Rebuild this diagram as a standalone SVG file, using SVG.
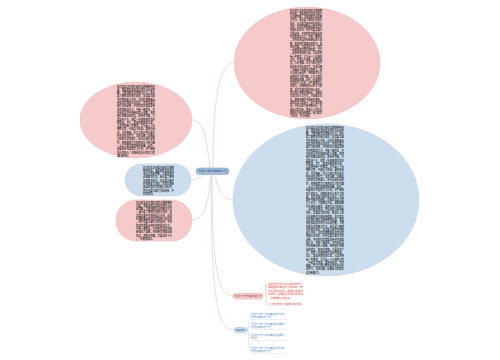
<svg xmlns="http://www.w3.org/2000/svg" width="500" height="360" viewBox="0 0 500 360">
<style>
.t{font-family:"Noto Sans CJK SC","Noto Sans",sans-serif;font-size:3px;font-weight:500;fill:#111111}
.s{font-family:"Noto Sans CJK SC","Noto Sans",sans-serif;font-size:2.6px}
.c{fill:none;stroke:#e6d2d2;stroke-width:0.8}
.cb{fill:none;stroke:#cddcea;stroke-width:0.7}
.pk{fill:#f6caca;stroke:#f1bcbc;stroke-width:0.6}
.bl{fill:#ccdeee;stroke:#bfd4e8;stroke-width:0.6}
</style>
<rect width="500" height="360" fill="#ffffff"/>
<g id="connectors">
<path class="c" d="M213,168 C213,95 220,63 234,63"/>
<path class="c" d="M210,168 C206,132 202,120 192,120"/>
<path class="c" d="M205,174 C200,178 196,180 191,180"/>
<path class="c" d="M211,175 C208,210 202,220 192,220"/>
<path class="c" d="M215,175 C219,195 225,200 233,200"/>
<path class="c" d="M212,175 C212,280 220,296 234,296"/>
<path class="c" d="M211,175 C211,315 220,330 234,330"/>
<path class="c" d="M263,296 C266,296 265,290 266,284 L266,305 M266,296 L268,296" />
<path class="cb" d="M247,330 C249,330 248,316 251,316 M247,330 C249,330 248,326 251,326 M247,330 C249,330 248,337 251,337 M247,330 C249,330 248,350 251,350"/>
</g>
<g id="center">
<rect x="196" y="168" width="33" height="6.5" rx="3.2" fill="#a3bfdb" stroke="#7396ba" stroke-width="0.5"/>
<text class="s" x="212.5" y="172.2" text-anchor="middle" fill="#1f3550" textLength="28" lengthAdjust="spacingAndGlyphs">外语学习的方法和技巧介绍</text>
</g>
<g id="node-top">
<ellipse class="pk" cx="307" cy="63" rx="73" ry="56"/>
<g class="t">
<text x="290" y="11.5" textLength="32" lengthAdjust="spacingAndGlyphs">在日常生活中我们经常会遇到各</text>
<text x="290" y="14.8" textLength="32" lengthAdjust="spacingAndGlyphs">种问题，需要根据实际情况进行</text>
<text x="290" y="18.1" textLength="32" lengthAdjust="spacingAndGlyphs">分析和判断，才能找到合适的解</text>
<text x="290" y="21.4" textLength="32" lengthAdjust="spacingAndGlyphs">决方法。首先要了解相关的基本</text>
<text x="290" y="24.7" textLength="32" lengthAdjust="spacingAndGlyphs">知识，其次要注意平时的积累与</text>
<text x="290" y="28.0" textLength="32" lengthAdjust="spacingAndGlyphs">总结，这样在遇到类似的情况时</text>
<text x="290" y="31.3" textLength="32" lengthAdjust="spacingAndGlyphs">就能从容应对。同时也要注意方</text>
<text x="290" y="34.6" textLength="32" lengthAdjust="spacingAndGlyphs">法的选择，不同的情况需要采用</text>
<text x="290" y="37.9" textLength="32" lengthAdjust="spacingAndGlyphs">不同的处理方式，不能一概而论</text>
<text x="290" y="41.2" textLength="32" lengthAdjust="spacingAndGlyphs">。另外还应当多向有经验的人请</text>
<text x="290" y="44.5" textLength="32" lengthAdjust="spacingAndGlyphs">教，听取他们的意见和建议，避</text>
<text x="290" y="47.8" textLength="32" lengthAdjust="spacingAndGlyphs">免走弯路。只要坚持下去，相信</text>
<text x="290" y="51.1" textLength="32" lengthAdjust="spacingAndGlyphs">一定能够取得良好的效果。总之</text>
<text x="290" y="54.4" textLength="32" lengthAdjust="spacingAndGlyphs">，要保持积极的心态，认真对待</text>
<text x="290" y="57.7" textLength="32" lengthAdjust="spacingAndGlyphs">每一件事情。学习是一个长期的</text>
<text x="290" y="61.0" textLength="32" lengthAdjust="spacingAndGlyphs">过程，不能急于求成，要循序渐</text>
<text x="290" y="64.3" textLength="32" lengthAdjust="spacingAndGlyphs">进，打好基础。在学习的过程中</text>
<text x="290" y="67.6" textLength="32" lengthAdjust="spacingAndGlyphs">要多听多说多读多写，培养语感</text>
<text x="290" y="70.9" textLength="32" lengthAdjust="spacingAndGlyphs">，提高自己的综合运用能力。还</text>
<text x="290" y="74.2" textLength="32" lengthAdjust="spacingAndGlyphs">可以通过看电影、听歌曲等方式</text>
<text x="290" y="77.5" textLength="32" lengthAdjust="spacingAndGlyphs">来增加学习的兴趣，让学习变得</text>
<text x="290" y="80.8" textLength="32" lengthAdjust="spacingAndGlyphs">更加轻松有趣。此外，还要制定</text>
<text x="290" y="84.1" textLength="32" lengthAdjust="spacingAndGlyphs">合理的学习计划，并严格按照计</text>
<text x="290" y="87.4" textLength="32" lengthAdjust="spacingAndGlyphs">划执行，定期检查自己的学习效</text>
<text x="290" y="90.7" textLength="32" lengthAdjust="spacingAndGlyphs">果，及时发现问题并加以改正。</text>
<text x="290" y="94.0" textLength="32" lengthAdjust="spacingAndGlyphs">在实践中不断总结经验，找到适</text>
<text x="290" y="97.3" textLength="32" lengthAdjust="spacingAndGlyphs">合自己的学习方法，才能事半功</text>
<text x="290" y="100.6" textLength="32" lengthAdjust="spacingAndGlyphs">倍。遇到困难时不要轻易放弃，</text>
<text x="290" y="103.9" textLength="32" lengthAdjust="spacingAndGlyphs">要相信自己的能力，勇于面对挑</text>
<text x="290" y="107.2" textLength="32" lengthAdjust="spacingAndGlyphs">战。只有这样才能不断进步，实</text>
<text x="290" y="110.5" textLength="32" lengthAdjust="spacingAndGlyphs">现自己的目标。希望以上的内容</text>
<text x="290" y="113.8" textLength="32" lengthAdjust="spacingAndGlyphs">能够对大家有所帮助，祝大家学</text>
<text x="290" y="117.1" textLength="22" lengthAdjust="spacingAndGlyphs">习进步，生活愉快。</text>
</g>
</g>
<g id="node-big">
<ellipse class="bl" cx="326" cy="200" rx="93" ry="76"/>
<g class="t">
<text x="306" y="128.5" textLength="38" lengthAdjust="spacingAndGlyphs">在日常生活中我们经常会遇到各种问</text>
<text x="306" y="131.8" textLength="38" lengthAdjust="spacingAndGlyphs">题，需要根据实际情况进行分析和判</text>
<text x="306" y="135.1" textLength="38" lengthAdjust="spacingAndGlyphs">断，才能找到合适的解决方法。首先</text>
<text x="306" y="138.4" textLength="38" lengthAdjust="spacingAndGlyphs">要了解相关的基本知识，其次要注意</text>
<text x="306" y="141.7" textLength="38" lengthAdjust="spacingAndGlyphs">平时的积累与总结，这样在遇到类似</text>
<text x="306" y="145.0" textLength="38" lengthAdjust="spacingAndGlyphs">的情况时就能从容应对。同时也要注</text>
<text x="306" y="148.3" textLength="38" lengthAdjust="spacingAndGlyphs">意方法的选择，不同的情况需要采用</text>
<text x="306" y="151.6" textLength="38" lengthAdjust="spacingAndGlyphs">不同的处理方式，不能一概而论。另</text>
<text x="306" y="154.9" textLength="38" lengthAdjust="spacingAndGlyphs">外还应当多向有经验的人请教，听取</text>
<text x="306" y="158.2" textLength="38" lengthAdjust="spacingAndGlyphs">他们的意见和建议，避免走弯路。只</text>
<text x="306" y="161.5" textLength="38" lengthAdjust="spacingAndGlyphs">要坚持下去，相信一定能够取得良好</text>
<text x="306" y="164.8" textLength="38" lengthAdjust="spacingAndGlyphs">的效果。总之，要保持积极的心态，</text>
<text x="306" y="168.1" textLength="38" lengthAdjust="spacingAndGlyphs">认真对待每一件事情。学习是一个长</text>
<text x="306" y="171.4" textLength="38" lengthAdjust="spacingAndGlyphs">期的过程，不能急于求成，要循序渐</text>
<text x="306" y="174.7" textLength="38" lengthAdjust="spacingAndGlyphs">进，打好基础。在学习的过程中要多</text>
<text x="306" y="178.0" textLength="38" lengthAdjust="spacingAndGlyphs">听多说多读多写，培养语感，提高自</text>
<text x="306" y="181.3" textLength="38" lengthAdjust="spacingAndGlyphs">己的综合运用能力。还可以通过看电</text>
<text x="306" y="184.6" textLength="38" lengthAdjust="spacingAndGlyphs">影、听歌曲等方式来增加学习的兴趣</text>
<text x="306" y="187.9" textLength="38" lengthAdjust="spacingAndGlyphs">，让学习变得更加轻松有趣。此外，</text>
<text x="306" y="191.2" textLength="38" lengthAdjust="spacingAndGlyphs">还要制定合理的学习计划，并严格按</text>
<text x="306" y="194.5" textLength="38" lengthAdjust="spacingAndGlyphs">照计划执行，定期检查自己的学习效</text>
<text x="306" y="197.8" textLength="38" lengthAdjust="spacingAndGlyphs">果，及时发现问题并加以改正。在实</text>
<text x="306" y="201.1" textLength="38" lengthAdjust="spacingAndGlyphs">践中不断总结经验，找到适合自己的</text>
<text x="306" y="204.4" textLength="38" lengthAdjust="spacingAndGlyphs">学习方法，才能事半功倍。遇到困难</text>
<text x="306" y="207.7" textLength="38" lengthAdjust="spacingAndGlyphs">时不要轻易放弃，要相信自己的能力</text>
<text x="306" y="211.0" textLength="38" lengthAdjust="spacingAndGlyphs">，勇于面对挑战。只有这样才能不断</text>
<text x="306" y="214.3" textLength="38" lengthAdjust="spacingAndGlyphs">进步，实现自己的目标。希望以上的</text>
<text x="306" y="217.6" textLength="38" lengthAdjust="spacingAndGlyphs">内容能够对大家有所帮助。在日常生</text>
<text x="306" y="220.9" textLength="38" lengthAdjust="spacingAndGlyphs">活中我们经常会遇到各种问题，需要</text>
<text x="306" y="224.2" textLength="38" lengthAdjust="spacingAndGlyphs">根据实际情况进行分析和判断，才能</text>
<text x="306" y="227.5" textLength="38" lengthAdjust="spacingAndGlyphs">找到合适的解决方法。首先要了解相</text>
<text x="306" y="230.8" textLength="38" lengthAdjust="spacingAndGlyphs">关的基本知识，其次要注意平时的积</text>
<text x="306" y="234.1" textLength="38" lengthAdjust="spacingAndGlyphs">累与总结，这样在遇到类似的情况时</text>
<text x="306" y="237.4" textLength="38" lengthAdjust="spacingAndGlyphs">就能从容应对。同时也要注意方法的</text>
<text x="306" y="240.7" textLength="38" lengthAdjust="spacingAndGlyphs">选择，不同的情况需要采用不同的处</text>
<text x="306" y="244.0" textLength="38" lengthAdjust="spacingAndGlyphs">理方式，不能一概而论。另外还应当</text>
<text x="306" y="247.3" textLength="38" lengthAdjust="spacingAndGlyphs">多向有经验的人请教，听取他们的意</text>
<text x="306" y="250.6" textLength="38" lengthAdjust="spacingAndGlyphs">见和建议，避免走弯路。只要坚持下</text>
<text x="306" y="253.9" textLength="38" lengthAdjust="spacingAndGlyphs">去，相信一定能够取得良好的效果。</text>
<text x="306" y="257.2" textLength="38" lengthAdjust="spacingAndGlyphs">总之，要保持积极的心态，认真对待</text>
<text x="306" y="260.5" textLength="38" lengthAdjust="spacingAndGlyphs">每一件事情。学习是一个长期的过程</text>
<text x="306" y="263.8" textLength="38" lengthAdjust="spacingAndGlyphs">，不能急于求成，要循序渐进，打好</text>
<text x="306" y="267.1" textLength="38" lengthAdjust="spacingAndGlyphs">基础。在学习的过程中要多听多说多</text>
<text x="306" y="270.4" textLength="38" lengthAdjust="spacingAndGlyphs">读多写，培养语感，提高自己的综合</text>
<text x="306" y="273.7" textLength="16" lengthAdjust="spacingAndGlyphs">运用能力。</text>
</g>
</g>
<g id="node-left-top">
<ellipse class="pk" cx="136" cy="120" rx="56" ry="38"/>
<g class="t">
<text x="117" y="87.5" textLength="38" lengthAdjust="spacingAndGlyphs">在日常生活中我们经常会遇到各种问</text>
<text x="117" y="90.8" textLength="38" lengthAdjust="spacingAndGlyphs">题，需要根据实际情况进行分析和判</text>
<text x="117" y="94.1" textLength="38" lengthAdjust="spacingAndGlyphs">断，才能找到合适的解决方法。首先</text>
<text x="117" y="97.4" textLength="38" lengthAdjust="spacingAndGlyphs">要了解相关的基本知识，其次要注意</text>
<text x="117" y="100.7" textLength="38" lengthAdjust="spacingAndGlyphs">平时的积累与总结，这样在遇到类似</text>
<text x="117" y="104.0" textLength="38" lengthAdjust="spacingAndGlyphs">的情况时就能从容应对。同时也要注</text>
<text x="117" y="107.3" textLength="38" lengthAdjust="spacingAndGlyphs">意方法的选择，不同的情况需要采用</text>
<text x="117" y="110.6" textLength="38" lengthAdjust="spacingAndGlyphs">不同的处理方式，不能一概而论。另</text>
<text x="117" y="113.9" textLength="38" lengthAdjust="spacingAndGlyphs">外还应当多向有经验的人请教，听取</text>
<text x="117" y="117.2" textLength="38" lengthAdjust="spacingAndGlyphs">他们的意见和建议，避免走弯路。只</text>
<text x="117" y="120.5" textLength="38" lengthAdjust="spacingAndGlyphs">要坚持下去，相信一定能够取得良好</text>
<text x="117" y="123.8" textLength="38" lengthAdjust="spacingAndGlyphs">的效果。总之，要保持积极的心态，</text>
<text x="117" y="127.1" textLength="38" lengthAdjust="spacingAndGlyphs">认真对待每一件事情。学习是一个长</text>
<text x="117" y="130.4" textLength="38" lengthAdjust="spacingAndGlyphs">期的过程，不能急于求成，要循序渐</text>
<text x="117" y="133.7" textLength="38" lengthAdjust="spacingAndGlyphs">进，打好基础。在学习的过程中要多</text>
<text x="117" y="137.0" textLength="38" lengthAdjust="spacingAndGlyphs">听多说多读多写，培养语感，提高自</text>
<text x="117" y="140.3" textLength="38" lengthAdjust="spacingAndGlyphs">己的综合运用能力。还可以通过看电</text>
<text x="117" y="143.6" textLength="38" lengthAdjust="spacingAndGlyphs">影、听歌曲等方式来增加学习的兴趣</text>
<text x="117" y="146.9" textLength="38" lengthAdjust="spacingAndGlyphs">，让学习变得更加轻松有趣。此外，</text>
<text x="117" y="150.2" textLength="38" lengthAdjust="spacingAndGlyphs">还要制定合理的学习计划，并严格按</text>
<text x="117" y="153.5" textLength="38" lengthAdjust="spacingAndGlyphs">照计划执行，定期检查自己的学习效</text>
<text x="117" y="156.8" textLength="14" lengthAdjust="spacingAndGlyphs">果如何。</text>
</g>
</g>
<g id="node-left-mid">
<rect class="bl" x="125" y="164" width="66" height="32" rx="16"/>
<g class="t">
<text x="143" y="168.5" textLength="31" lengthAdjust="spacingAndGlyphs">在日常生活中我们经常会遇到</text>
<text x="143" y="171.8" textLength="31" lengthAdjust="spacingAndGlyphs">各种问题，需要根据实际情况</text>
<text x="143" y="175.1" textLength="31" lengthAdjust="spacingAndGlyphs">进行分析和判断，才能找到合</text>
<text x="143" y="178.4" textLength="31" lengthAdjust="spacingAndGlyphs">适的解决方法。首先要了解相</text>
<text x="143" y="181.7" textLength="31" lengthAdjust="spacingAndGlyphs">关的基本知识，其次要注意平</text>
<text x="143" y="185.0" textLength="31" lengthAdjust="spacingAndGlyphs">时的积累与总结，这样在遇到</text>
<text x="143" y="188.3" textLength="31" lengthAdjust="spacingAndGlyphs">类似的情况时就能从容应对。</text>
<text x="143" y="191.6" textLength="31" lengthAdjust="spacingAndGlyphs">同时也要注意方法的选择，不</text>
<text x="143" y="194.9" textLength="12" lengthAdjust="spacingAndGlyphs">同的情况。</text>
</g>
</g>
<g id="node-left-bottom">
<rect class="pk" x="116" y="200" width="76" height="41" rx="20"/>
<g class="t">
<text x="136" y="203.5" textLength="36" lengthAdjust="spacingAndGlyphs">在日常生活中我们经常会遇到各种</text>
<text x="136" y="206.8" textLength="36" lengthAdjust="spacingAndGlyphs">问题，需要根据实际情况进行分析</text>
<text x="136" y="210.1" textLength="36" lengthAdjust="spacingAndGlyphs">和判断，才能找到合适的解决方法</text>
<text x="136" y="213.4" textLength="36" lengthAdjust="spacingAndGlyphs">。首先要了解相关的基本知识，其</text>
<text x="136" y="216.7" textLength="36" lengthAdjust="spacingAndGlyphs">次要注意平时的积累与总结，这样</text>
<text x="136" y="220.0" textLength="36" lengthAdjust="spacingAndGlyphs">在遇到类似的情况时就能从容应对</text>
<text x="136" y="223.3" textLength="36" lengthAdjust="spacingAndGlyphs">。同时也要注意方法的选择，不同</text>
<text x="136" y="226.6" textLength="36" lengthAdjust="spacingAndGlyphs">的情况需要采用不同的处理方式，</text>
<text x="136" y="229.9" textLength="36" lengthAdjust="spacingAndGlyphs">不能一概而论。另外还应当多向有</text>
<text x="136" y="233.2" textLength="36" lengthAdjust="spacingAndGlyphs">经验的人请教，听取他们的意见和</text>
<text x="136" y="236.5" textLength="36" lengthAdjust="spacingAndGlyphs">建议，避免走弯路。只要坚持下去</text>
<text x="136" y="239.8" textLength="18" lengthAdjust="spacingAndGlyphs">，一定能够成功。</text>
</g>
</g>
<g id="node-pink-small">
<rect x="233" y="293.5" width="30" height="5.5" rx="2.7" fill="#f9d3d3" stroke="#ec9f9f" stroke-width="0.5"/>
<text class="s" x="248" y="297.2" text-anchor="middle" fill="#7a3030" textLength="27" lengthAdjust="spacingAndGlyphs">外语学习方法相关内容介绍</text>
<g class="s" fill="#e05050">
<text x="268" y="284.5" textLength="35" lengthAdjust="spacingAndGlyphs">在日常生活中我们经常会遇到各种问题，</text>
<text x="268" y="288.0" textLength="35" lengthAdjust="spacingAndGlyphs">需要根据实际情况进行分析和判断，才能</text>
<text x="268" y="291.5" textLength="35" lengthAdjust="spacingAndGlyphs">找到合适的解决方法。首先要了解相关的</text>
<text x="268" y="295.0" textLength="35" lengthAdjust="spacingAndGlyphs">基本知识，其次要注意平时的积累与总结</text>
<text x="268" y="298.5" textLength="24" lengthAdjust="spacingAndGlyphs">，这样就能从容应对。</text>
<text x="268" y="305.0" textLength="35" lengthAdjust="spacingAndGlyphs">以上内容仅供参考，请根据实际情况选择。</text>
</g>
</g>
<g id="node-blue-small">
<rect x="234" y="327.5" width="13" height="5" rx="2.5" fill="#dbe7f3" stroke="#9dbbd8" stroke-width="0.5"/>
<text class="s" x="240.5" y="331" text-anchor="middle" fill="#2a4a6a" textLength="10" lengthAdjust="spacingAndGlyphs">相关推荐</text>
<g class="s" fill="#4a86c8">
<text x="251" y="315" textLength="35" lengthAdjust="spacingAndGlyphs">外语学习方法：如何提高英语听力水平？</text>
<text x="251" y="318" textLength="20" lengthAdjust="spacingAndGlyphs">方法和技巧介绍</text>
<text x="251" y="325" textLength="35" lengthAdjust="spacingAndGlyphs">外语学习方法：如何提高英语口语能力？</text>
<text x="251" y="328" textLength="20" lengthAdjust="spacingAndGlyphs">方法和技巧介绍</text>
<text x="251" y="336" textLength="35" lengthAdjust="spacingAndGlyphs">外语学习方法：如何提高英语阅读能力？</text>
<text x="251" y="339" textLength="6" lengthAdjust="spacingAndGlyphs">方法</text>
<text x="251" y="349" textLength="35" lengthAdjust="spacingAndGlyphs">外语学习方法：如何提高英语写作水平？</text>
<text x="251" y="352" textLength="20" lengthAdjust="spacingAndGlyphs">方法和技巧介绍</text>
</g>
<g stroke="#cddcea" stroke-width="0.4">
<line x1="251" y1="319.5" x2="287" y2="319.5"/>
<line x1="251" y1="329.5" x2="287" y2="329.5"/>
<line x1="251" y1="340.5" x2="287" y2="340.5"/>
<line x1="251" y1="353.5" x2="287" y2="353.5"/>
</g>
</g>
</svg>
